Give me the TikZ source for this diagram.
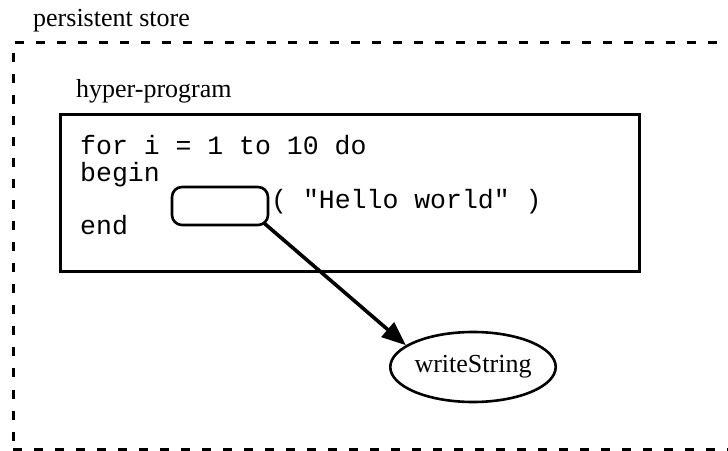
\documentclass[tikz,border=0pt]{standalone}
\usepackage{fontspec}
\setmainfont{Liberation Serif}
\setmonofont{Liberation Mono}
\usetikzlibrary{shapes.geometric,arrows.meta,calc}
\begin{document}
\begin{tikzpicture}[x=1pt,y=1pt,
  lbl/.style={anchor=base west,inner sep=0pt,font=\fontsize{26}{30}\selectfont},
  code/.style={anchor=base west,inner sep=0pt,font=\fontsize{26.5}{27}\selectfont\ttfamily},
  storebox/.style={draw,line width=3pt,dash pattern=on 9pt off 12pt,inner sep=0pt},
  progbox/.style={draw,line width=3pt,inner sep=0pt},
  holebox/.style={draw,line width=2.6pt,rounded corners=10pt,inner sep=0pt,minimum width=96pt,minimum height=38pt},
  objnode/.style={draw,ellipse,line width=2.6pt,inner sep=0pt,minimum width=152pt,minimum height=70pt,font=\fontsize{26}{30}\selectfont},
  link/.style={line width=3.6pt,-{Triangle[length=24pt,width=19pt]}}]
\useasboundingbox (0,0) rectangle (728,450);
\clip (0,0) rectangle (728,450);
\node[storebox,minimum width=747pt,minimum height=406.5pt] (store) at (386.5,203.75) {};
\node[lbl] (storelbl) at (33,423) {persistent store};
\node[progbox,minimum width=579pt,minimum height=157pt] (prog) at (349.5,256.5) {};
\node[lbl] (proglbl) at (76,352) {hyper-program};
\node[code] (l1) at (80,295) {for i = 1 to 10 do};
\node[code] (l2) at (80,268.3) {begin};
\node[code] (l3) at (271,241.6) {( "Hello world" )};
\node[code] (l4) at (80,215) {end};
\node[holebox] (hole) at (220,244) {};
\node[objnode] (ws) at (473,83) {writeString};
\draw[link] ($(hole.south east)+(-5,3)$) -- (ws.162);
\end{tikzpicture}
\end{document}
